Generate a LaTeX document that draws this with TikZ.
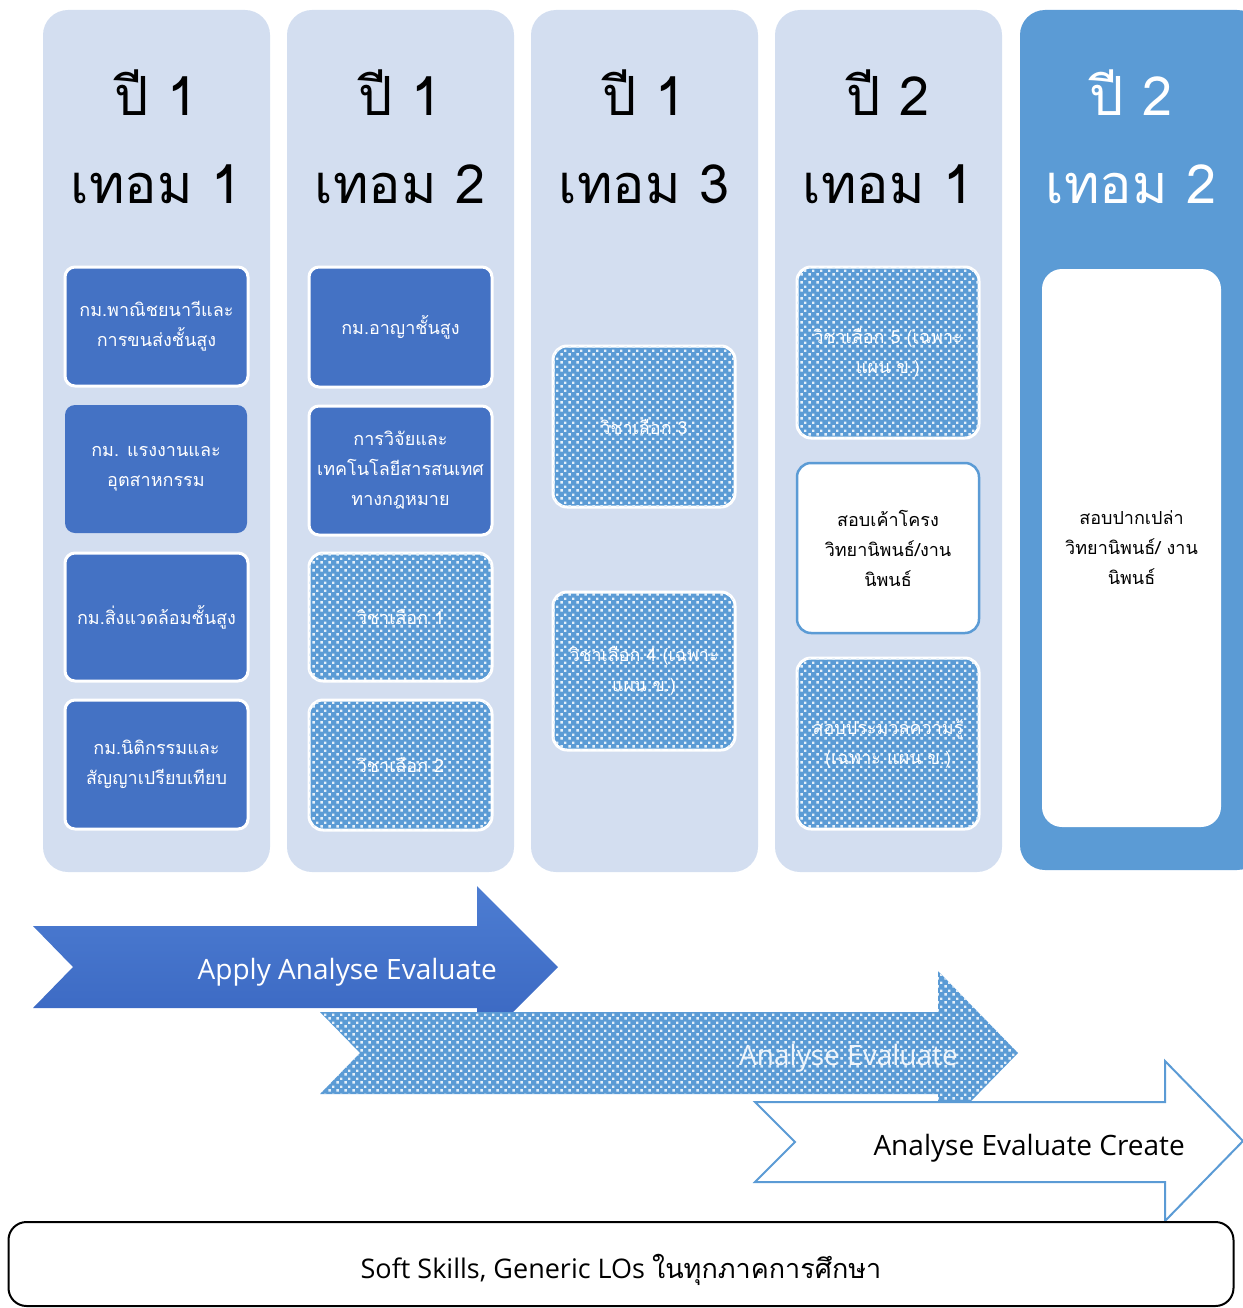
\documentclass[tikz,border=0pt]{standalone}
\usepackage{fontspec}
\setmainfont{Open Sans}
\newfontfamily\thai[Script=Thai]{Loma}
\usetikzlibrary{patterns.meta}
\definecolor{colbg}{HTML}{D3DEF0}
\definecolor{darkblue}{HTML}{4472C4}
\definecolor{midblue}{HTML}{5B9BD5}
\definecolor{arrtop}{HTML}{4D7DD2}
\definecolor{arrbot}{HTML}{3865C0}
\tikzdeclarepattern{
  name=wdots,
  type=uncolored,
  bounding box={(0pt,0pt) and (8pt,8pt)},
  tile size={(8pt,8pt)},
  code={
    \fill (0.5pt,0.5pt) rectangle (3.2pt,3.2pt);
    \fill (4.5pt,4.5pt) rectangle (7.2pt,7.2pt);
  }
}
\tikzset{
  column/.style={fill=colbg, rounded corners=25pt},
  head/.style={align=center, font=\thai\fontsize{54}{88}\selectfont, text=black},
  boxtxt/.style={align=center, font=\thai\fontsize{18}{30}\selectfont, inner sep=2pt},
  dbox/.style={boxtxt, draw=white, line width=3pt, fill=darkblue, rounded corners=10pt, text=white},
  dboxnb/.style={boxtxt, fill=darkblue, rounded corners=10pt, text=white},
  pbox/.style={boxtxt, draw=white, line width=3pt, fill=midblue, rounded corners=14pt, text=white,
    postaction={pattern={wdots}, pattern color=white!85!midblue}},
  wbox/.style={boxtxt, draw=midblue, line width=2.5pt, fill=white, rounded corners=14pt, text=black},
  arrtxt/.style={font=\fontsize{28}{32}\selectfont, inner sep=0pt},
}
\begin{document}
\begin{tikzpicture}[x=1pt,y=-1pt]
\useasboundingbox (0,0) rectangle (1242,1308);
% columns
\fill[column] (43,10) rectangle (270,872);
\fill[column] (287,10) rectangle (514,872);
\fill[column] (531,10) rectangle (758,872);
\fill[column] (775,10) rectangle (1002,872);
\fill[column, fill=midblue] (1020,10) rectangle (1262,870);
% headers
\node[head] (h1) at (156,137) {ปี 1\\เทอม 1};
\node[head] (h2) at (400,137) {ปี 1\\เทอม 2};
\node[head] (h3) at (644,137) {ปี 1\\เทอม 3};
\node[head] (h4) at (888,137) {ปี 2\\เทอม 1};
\node[head, text=white] (h5) at (1131,137) {ปี 2\\เทอม 2};
% column 1
\node[dbox, minimum width=183pt, minimum height=119pt] (a1) at (156.5,326.5) {กม.พาณิชยนาวีและ\\การขนส่งชั้นสูง};
\node[dboxnb, minimum width=182pt, minimum height=128pt] (a2) at (156,469) {กม. แรงงานและ\\อุตสาหกรรม};
\node[dbox, minimum width=183pt, minimum height=128pt] (a3) at (156.5,617) {กม.สิ่งแวดล้อมชั้นสูง};
\node[dbox, minimum width=183pt, minimum height=129pt] (a4) at (156.5,764.5) {กม.นิติกรรมและ\\สัญญาเปรียบเทียบ};
% column 2
\node[dbox, minimum width=183pt, minimum height=120pt] (b1) at (400.5,327) {กม.อาญาชั้นสูง};
\node[dbox, minimum width=183pt, minimum height=129pt] (b2) at (400.5,470.5) {การวิจัยและ\\เทคโนโลยีสารสนเทศ\\ทางกฎหมาย};
\node[pbox, minimum width=183pt, minimum height=128pt] (b3) at (400.5,617) {วิชาเลือก 1};
\node[pbox, minimum width=183pt, minimum height=130pt] (b4) at (400.5,765) {วิชาเลือก 2};
% column 3
\node[pbox, minimum width=182pt, minimum height=161pt] (c1) at (644,426.5) {วิชาเลือก 3};
\node[pbox, minimum width=182pt, minimum height=158pt] (c2) at (644,671) {วิชาเลือก 4 (เฉพาะ\\แผน ข.)};
% column 4
\node[pbox, minimum width=182pt, minimum height=171pt] (d1) at (888,352.5) {วิชาเลือก 5 (เฉพาะ\\แผน ข.)};
\node[wbox, minimum width=182pt, minimum height=170pt] (d2) at (888,548) {สอบเค้าโครง\\วิทยานิพนธ์/งาน\\นิพนธ์};
\node[pbox, minimum width=182pt, minimum height=171pt] (d3) at (888,743.5) {สอบประมวลความรู้\\(เฉพาะ แผน ข.)};
% column 5
\node[boxtxt, fill=white, rounded corners=20pt, minimum width=179pt, minimum height=558pt] (e1) at (1131.5,548) {สอบปากเปล่า\\วิทยานิพนธ์/ งาน\\นิพนธ์};
% arrow 1
\shade[top color=arrtop, bottom color=arrbot] (33,926) -- (477,926) -- (477,886) -- (558,967) -- (477,1048) -- (477,1008) -- (33,1008) -- (73,967) -- cycle;
\node[arrtxt, text=white, anchor=east] (t1) at (497,972) {Apply Analyse Evaluate};
% arrow 2
\fill[midblue, postaction={pattern={wdots}, pattern color=white!85!midblue}] (320,1012) -- (938,1012) -- (938,971) -- (1018,1053) -- (938,1135) -- (938,1094) -- (320,1094) -- (360,1053) -- cycle;
\node[arrtxt, text=white!90!midblue, anchor=east] (t2) at (958,1058) {Analyse Evaluate};
% arrow 3
\draw[midblue, line width=2pt, fill=white] (755,1102) -- (1165,1102) -- (1165,1061) -- (1243,1141) -- (1165,1221) -- (1165,1182) -- (755,1182) -- (795,1142) -- cycle;
\node[arrtxt, text=black, anchor=east] (t3) at (1185,1148) {Analyse Evaluate Create};
% bottom box
\node[draw=black, line width=2pt, fill=white, rounded corners=18pt, minimum width=1225pt, minimum height=84pt] (bot) at (621,1264) {};
\node[font=\fontsize{27}{32}\selectfont, inner sep=0pt] (botlabel) at (621,1270) {Soft Skills, Generic LOs {\thai ในทุกภาคการศึกษา}};
\end{tikzpicture}
\end{document}
